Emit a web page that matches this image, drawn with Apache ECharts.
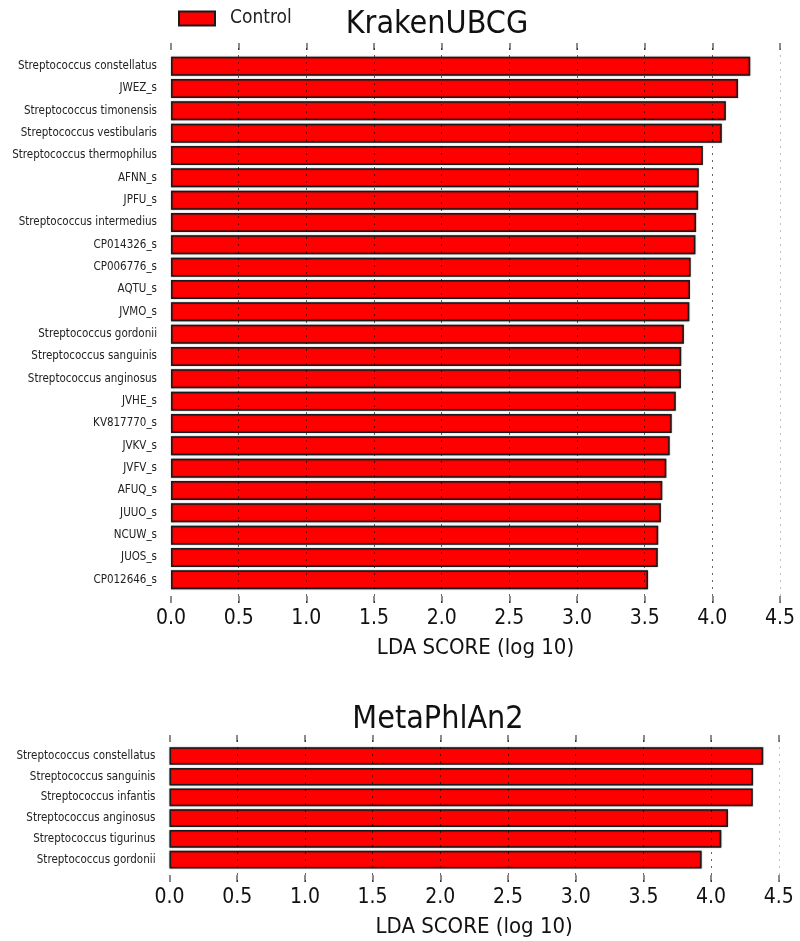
<!DOCTYPE html>
<html>
<head>
<meta charset="utf-8">
<title>LDA scores</title>
<script src="https://cdn.jsdelivr.net/npm/echarts@6/dist/echarts.min.js"></script>
<style>
  html, body { margin: 0; padding: 0; background: #ffffff; }
  #chart { width: 800px; height: 941px; }
</style>
</head>
<body>
<div id="chart"></div>
<script>
// KrakenUBCG panel
const krakenTaxa = [
  'Streptococcus constellatus', 'JWEZ_s', 'Streptococcus timonensis', 'Streptococcus vestibularis',
  'Streptococcus thermophilus', 'AFNN_s', 'JPFU_s', 'Streptococcus intermedius',
  'CP014326_s', 'CP006776_s', 'AQTU_s', 'JVMO_s',
  'Streptococcus gordonii', 'Streptococcus sanguinis', 'Streptococcus anginosus', 'JVHE_s',
  'KV817770_s', 'JVKV_s', 'JVFV_s', 'AFUQ_s',
  'JUUO_s', 'NCUW_s', 'JUOS_s', 'CP012646_s'
];
const krakenScores = [
  4.28, 4.19, 4.10, 4.07,
  3.93, 3.90, 3.895, 3.88,
  3.875, 3.84, 3.835, 3.83,
  3.79, 3.77, 3.768, 3.73,
  3.70, 3.685, 3.66, 3.63,
  3.62, 3.60, 3.597, 3.525
];

// MetaPhlAn2 panel
const metaphlanTaxa = [
  'Streptococcus constellatus', 'Streptococcus sanguinis', 'Streptococcus infantis',
  'Streptococcus anginosus', 'Streptococcus tigurinus', 'Streptococcus gordonii'
];
const metaphlanScores = [4.385, 4.31, 4.308, 4.125, 4.075, 3.93];

// Shared LDA axis
const ldaMin = 0;
const ldaMax = 4.5;
const ldaStep = 0.5;
const gridLineValues = [0.5, 1.0, 1.5, 2.0, 2.5, 3.0, 3.5, 4.0, 4.5];

const groupName = 'Control';
const titles = ['KrakenUBCG', 'MetaPhlAn2'];
const axisTitle = 'LDA SCORE (log 10)';

const FONT = "'DejaVu Sans Condensed', 'DejaVu Sans', sans-serif";

const chart = echarts.init(document.getElementById('chart'), null, { renderer: 'canvas' });

// Panel frames (tick/grid-line area) and bar areas
const panels = [
  { left: 171, right: 20, frameTop: 43, frameHeight: 560, barTop: 55, barHeight: 536 },
  { left: 169.5, right: 21.2, frameTop: 735, frameHeight: 147, barTop: 745.6, barHeight: 124.4 }
];

const grids = [];
const xAxes = [];
const yAxes = [];
panels.forEach(p => {
  grids.push({ left: p.left, right: p.right, top: p.frameTop, height: p.frameHeight, containLabel: false });
  grids.push({ left: p.left, right: p.right, top: p.barTop, height: p.barHeight, containLabel: false });
});

const tickStyle = { show: true, inside: true, length: 7, lineStyle: { color: '#666', width: 1.5 } };

[0, 1].forEach(i => {
  const frameGrid = i * 2;
  const barGrid = i * 2 + 1;
  // bottom axis with labels
  xAxes.push({
    type: 'value', gridIndex: frameGrid, position: 'bottom',
    min: ldaMin, max: ldaMax, interval: ldaStep,
    axisLine: { show: false },
    axisTick: tickStyle,
    splitLine: { show: false },
    axisLabel: {
      show: true, margin: 5, color: '#111', fontFamily: FONT, fontSize: 21,
      formatter: v => v.toFixed(1)
    },
    name: axisTitle, nameLocation: 'middle', nameGap: 34,
    nameTextStyle: { color: '#111', fontFamily: FONT, fontSize: 22 }
  });
  // top axis, ticks only
  xAxes.push({
    type: 'value', gridIndex: frameGrid, position: 'top',
    min: ldaMin, max: ldaMax, interval: ldaStep,
    axisLine: { show: false },
    axisTick: tickStyle,
    splitLine: { show: false },
    axisLabel: { show: false }
  });
  // bar axis
  xAxes.push({
    type: 'value', gridIndex: barGrid, min: ldaMin, max: ldaMax, interval: ldaStep,
    show: false
  });
  yAxes.push({ type: 'value', gridIndex: frameGrid, min: 0, max: 1, show: false });
  yAxes.push({
    type: 'category', gridIndex: barGrid, inverse: true,
    data: i === 0 ? krakenTaxa : metaphlanTaxa,
    axisLine: { show: false }, axisTick: { show: false }, splitLine: { show: false },
    axisLabel: { margin: 14, color: '#222', fontFamily: FONT, fontSize: 11.5 }
  });
});

const barStyle = {
  color: '#ff0000',
  borderColor: '#1a1a1a',
  borderWidth: 1.5,
  shadowColor: 'rgba(0,0,0,0.45)',
  shadowBlur: 1.5
};

function gridLines() {
  return {
    silent: true,
    symbol: ['none', 'none'],
    label: { show: false },
    lineStyle: { type: [2, 5], color: 'rgba(0,0,0,0.6)', width: 1 },
    data: gridLineValues.map(v => ({
      xAxis: v,
      lineStyle: v === ldaMax ? { color: 'rgba(0,0,0,0.25)', type: [2, 5], width: 1 } : undefined
    }))
  };
}

const series = [
  {
    name: groupName, type: 'bar', xAxisIndex: 2, yAxisIndex: 1,
    data: krakenScores, barCategoryGap: '15%', itemStyle: barStyle, z: 2
  },
  {
    name: groupName, type: 'bar', xAxisIndex: 5, yAxisIndex: 3,
    data: metaphlanScores, barCategoryGap: '15%', itemStyle: barStyle, z: 2
  },
  {
    name: 'grid-top', type: 'line', xAxisIndex: 0, yAxisIndex: 0,
    data: [], z: 5, markLine: gridLines()
  },
  {
    name: 'grid-bottom', type: 'line', xAxisIndex: 3, yAxisIndex: 2,
    data: [], z: 5, markLine: gridLines()
  }
];

chart.setOption({
  animation: false,
  backgroundColor: '#ffffff',
  title: [
    {
      text: titles[0], left: 432, top: 4, textAlign: 'center',
      textStyle: { fontFamily: FONT, fontSize: 32, fontWeight: 'normal', color: '#111' }
    },
    {
      text: titles[1], left: 433, top: 699, textAlign: 'center',
      textStyle: { fontFamily: FONT, fontSize: 32, fontWeight: 'normal', color: '#111' }
    }
  ],
  legend: {
    data: [groupName],
    left: 173, top: 4,
    icon: 'rect', itemWidth: 36, itemHeight: 14,
    textStyle: { fontFamily: FONT, fontSize: 19, color: '#222', padding: [0, 0, 0, 10] }
  },
  grid: grids,
  xAxis: xAxes,
  yAxis: yAxes,
  series: series
});
</script>
</body>
</html>
